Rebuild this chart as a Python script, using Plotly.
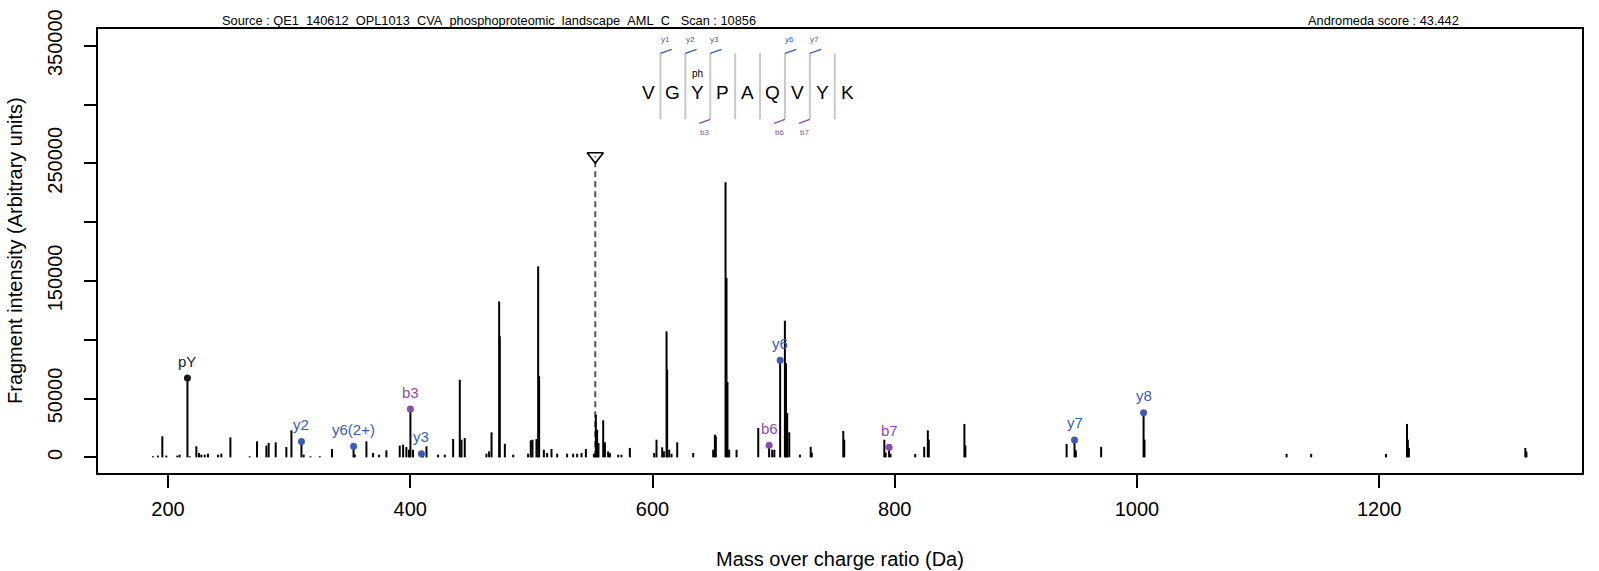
import plotly.graph_objects as go

# ---------------- data ----------------
peak_mz = [187.6, 191.7, 195.3, 198.6, 207.7, 209.6, 217.9, 223.4, 225.6, 227.5, 230.3, 233.0,
           241.3, 244.0, 251.5, 267.4, 273.5, 281.2, 283.1, 288.9, 297.7, 301.9, 312.0, 317.6,
           325.3, 335.4, 354.2, 363.8, 369.3, 374.3, 380.3, 391.3, 394.1, 396.8, 399.0, 402.3,
           410.5, 413.4, 423.0, 428.5, 435.4, 440.9, 442.3, 445.0, 462.9, 465.1, 467.1, 473.4,
           473.9, 478.1, 485.0, 497.3, 499.5, 500.9, 504.2, 505.6, 506.4, 510.3, 513.0, 516.6,
           521.3, 529.5, 534.5, 537.8, 541.4, 545.0, 551.6, 553.2, 554.3, 555.4, 559.3, 560.7,
           563.4, 564.8, 571.7, 574.4, 581.3, 601.4, 603.3, 608.0, 609.4, 611.6, 612.1, 613.8,
           615.7, 620.4, 633.6, 650.1, 651.5, 652.3, 660.3, 661.1, 661.9, 663.3, 669.4, 687.3,
           698.8, 700.6, 709.3, 710.2, 711.2, 712.9, 721.7, 730.6, 731.5, 757.5, 758.3, 791.4,
           792.5, 796.5, 816.9, 824.3, 827.3, 828.1, 857.5, 858.3, 941.9, 949.5, 970.4, 1006.2,
           1123.5, 1143.8, 1205.6, 1222.9, 1223.6, 1224.5, 1320.6, 1321.5]
peak_int = [900, 1500, 17900, 1500, 1500, 2300, 900, 9400, 3700, 2300, 2300, 3100,
            2300, 3100, 17000, 900, 13600, 10000, 12200, 12800, 8800, 23000, 2300, 900,
            900, 7100, 2300, 13600, 3700, 2300, 6000, 10000, 10800, 8800, 6500, 6500,
            2500, 9400, 2300, 2300, 15600, 66000, 15000, 16500, 3100, 5100, 21300, 132600,
            103000, 11600, 2300, 3100, 14500, 15000, 15600, 162400, 68900, 6500, 3700, 7100,
            3100, 3100, 3100, 3100, 3700, 7100, 3100, 36300, 23500, 12200, 31500, 12800,
            5100, 3700, 2300, 2300, 8000, 3700, 15000, 8500, 5100, 107100, 74500, 6500,
            3100, 12800, 3700, 6500, 19300, 17900, 233800, 152500, 64000, 6500, 6500, 25000,
            6500, 6500, 116200, 80000, 37700, 21300, 2300, 9000, 4000, 22500, 15000, 15000,
            4000, 3000, 3000, 9000, 23000, 15000, 28400, 10000, 11400, 6000, 9000, 15000,
            3000, 3000, 3000, 28400, 15000, 8000, 8000, 5000]

ion_labels = ["pY", "y2", "y6(2+)", "b3", "y3", "b6", "y6", "b7", "y7", "y8"]
ion_mz = [216.04, 310.18, 353.20, 400.13, 409.24, 696.28, 705.39, 795.34, 948.42, 1005.44]
ion_int = [67400, 13500, 9400, 41100, 3100, 10200, 82500, 8500, 14800, 38000]
ion_type = ["imm", "y", "y", "b", "y", "b", "y", "b", "y", "y"]

precursor_mz = 552.76
precursor_int = 256000

sequence = ["V", "G", "Y", "P", "A", "Q", "V", "Y", "K"]
modified_pos = [2]
mod_label = "ph"
seq_top_labels = ["y1", "y2", "y3", "y6", "y7"]
seq_top_sites = [1, 2, 3, 6, 7]
seq_bottom_labels = ["b3", "b6", "b7"]
seq_bottom_sites = [3, 6, 7]

x_ticks = [200, 400, 600, 800, 1000, 1200]
y_ticks = [0, 50000, 100000, 150000, 200000, 250000, 300000, 350000]
y_tick_text = ["0", "50000", "", "150000", "", "250000", "", "350000"]

source_text = "Source : QE1_140612_OPL1013_CVA_phosphoproteomic_landscape_AML_C   Scan : 10856"
score_text = "Andromeda score : 43.442"
x_title = "Mass over charge ratio (Da)"
y_title = "Fragment intensity (Arbitrary units)"

# ---------------- style ----------------
W, H = 1599, 571
L, R, T, B = 98, 1582, 29, 473
FONT = "Liberation Sans, Arial, sans-serif"
COL = {"imm": "#1a1a1a", "y": "#3D5CB8", "b": "#8A4CAE"}
SEP_COL = "#c8c8c8"


def px(x):
    return (x - L) / (R - L)


def py(y):
    return (B - y) / (B - T)


fig = go.Figure()

# precursor dashed line
fig.add_trace(go.Scatter(x=[precursor_mz, precursor_mz], y=[0, precursor_int], mode="lines",
                         line=dict(color="#555555", width=2, dash="6px,4px"),
                         hoverinfo="skip", showlegend=False))

# sticks
xs, ys = [], []
for m, v in zip(peak_mz + ion_mz, peak_int + ion_int):
    xs += [m, m, None]
    ys += [0, v, None]
fig.add_trace(go.Scatter(x=xs, y=ys, mode="lines", line=dict(color="black", width=2),
                         hoverinfo="skip", showlegend=False))

# precursor triangle
fig.add_trace(go.Scatter(x=[precursor_mz], y=[precursor_int], mode="markers",
                         marker=dict(symbol="triangle-down-open", size=14,
                                     line=dict(color="black", width=1.6), color="black"),
                         hoverinfo="skip", showlegend=False))

# annotated ions
fig.add_trace(go.Scatter(x=ion_mz, y=ion_int, mode="markers",
                         marker=dict(size=7, color=[COL[t] for t in ion_type]),
                         hoverinfo="skip", showlegend=False))
for lab, m, v, t in zip(ion_labels, ion_mz, ion_int, ion_type):
    fig.add_annotation(x=m, y=v, text=lab, showarrow=False, yshift=17,
                       font=dict(size=15, color=COL[t], family=FONT))

# ---------------- peptide sequence ----------------
seq_x0, seq_step = 648.0, 24.9
letter_y = 93.0
sep_top, sep_bot = 53.3, 119.3
shapes = []
for i, aa in enumerate(sequence):
    cx = seq_x0 + i * seq_step
    fig.add_annotation(xref="paper", yref="paper", x=px(cx), y=py(letter_y), text=aa,
                       showarrow=False, xanchor="center", yanchor="middle",
                       font=dict(size=19, color="black", family=FONT))
    if i in modified_pos:
        fig.add_annotation(xref="paper", yref="paper", x=px(cx), y=py(74), text=mod_label,
                           showarrow=False, xanchor="center", yanchor="middle",
                           font=dict(size=10, color="black", family=FONT))
for k in range(1, len(sequence)):
    sx = seq_x0 + (k - 0.5) * seq_step
    shapes.append(dict(type="line", xref="paper", yref="paper", x0=px(sx), x1=px(sx),
                       y0=py(sep_top), y1=py(sep_bot), line=dict(color=SEP_COL, width=2)))
for lab, k in zip(seq_top_labels, seq_top_sites):
    sx = seq_x0 + (k - 0.5) * seq_step
    shapes.append(dict(type="line", xref="paper", yref="paper", x0=px(sx), x1=px(sx + 11.3),
                       y0=py(sep_top), y1=py(sep_top - 4), line=dict(color=COL["y"], width=1.3)))
    fig.add_annotation(xref="paper", yref="paper", x=px(sx + 4.7), y=py(39.3), text=lab,
                       showarrow=False, xanchor="center", yanchor="middle",
                       font=dict(size=8, color=COL["y"], family=FONT))
for lab, k in zip(seq_bottom_labels, seq_bottom_sites):
    sx = seq_x0 + (k - 0.5) * seq_step
    shapes.append(dict(type="line", xref="paper", yref="paper", x0=px(sx), x1=px(sx - 11),
                       y0=py(sep_bot), y1=py(sep_bot + 4), line=dict(color=COL["b"], width=1.3)))
    fig.add_annotation(xref="paper", yref="paper", x=px(sx - 5.3), y=py(132.7), text=lab,
                       showarrow=False, xanchor="center", yanchor="middle",
                       font=dict(size=8, color=COL["b"], family=FONT))

# ---------------- header & titles ----------------
fig.add_annotation(xref="paper", yref="paper", x=px(489), y=py(20), text=source_text,
                   showarrow=False, xanchor="center", yanchor="middle",
                   font=dict(size=12.8, color="black", family=FONT))
fig.add_annotation(xref="paper", yref="paper", x=px(1383.5), y=py(20), text=score_text,
                   showarrow=False, xanchor="center", yanchor="middle",
                   font=dict(size=12.8, color="black", family=FONT))
fig.add_annotation(xref="paper", yref="paper", x=px((L + R) / 2), y=py(559), text=x_title,
                   showarrow=False, xanchor="center", yanchor="middle",
                   font=dict(size=20, color="black", family=FONT))
fig.add_annotation(xref="paper", yref="paper", x=px(15), y=py((T + B) / 2), text=y_title,
                   showarrow=False, xanchor="center", yanchor="middle", textangle=-90,
                   font=dict(size=20, color="black", family=FONT))

fig.update_layout(
    width=W, height=H,
    margin=dict(l=L, r=W - R, t=T, b=H - B, autoexpand=False),
    paper_bgcolor="white", plot_bgcolor="white",
    shapes=shapes,
    font=dict(family=FONT, color="black"),
    xaxis=dict(range=[142.2, 1367.4], tickmode="array", tickvals=x_ticks,
               ticktext=[str(v) for v in x_ticks], ticks="outside", ticklen=13, tickwidth=1.5,
               tickcolor="black", showline=True, linecolor="black", linewidth=1.5, mirror=True,
               showgrid=False, zeroline=False, tickfont=dict(size=20, family=FONT),
               ticklabelstandoff=4),
    yaxis=dict(range=[-13300, 364200], tickmode="array", tickvals=y_ticks,
               ticktext=y_tick_text, ticks="outside", ticklen=12, tickwidth=1.5,
               tickcolor="black", showline=True, linecolor="black", linewidth=1.5, mirror=True,
               showgrid=False, zeroline=False, tickangle=-90, tickfont=dict(size=20, family=FONT),
               ticklabelstandoff=14),
)

fig.write_html("out.html", config={"displayModeBar": False},
               post_script="document.body.style.margin='0';document.body.style.overflow='hidden';")
